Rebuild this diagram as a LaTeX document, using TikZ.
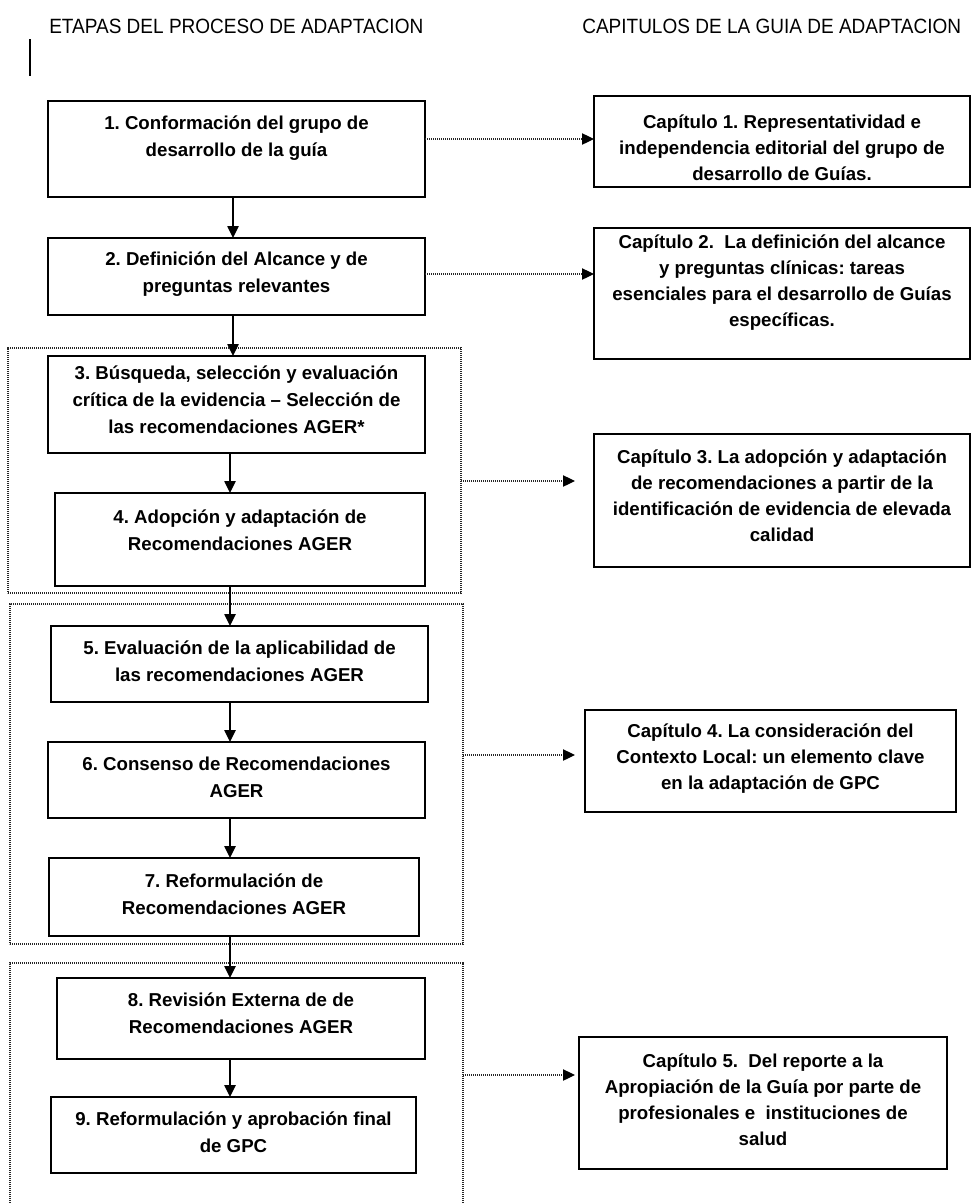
\documentclass[tikz,border=0pt]{standalone}
\usepackage{fontspec}
\setmainfont{Liberation Sans}
\newfontfamily\hdrfont[FakeStretch=0.92]{Liberation Sans}
\usetikzlibrary{arrows.meta}
\begin{document}
\frenchspacing
\begin{tikzpicture}[x=0.75pt,y=-0.75pt,
  box/.style={draw=black, line width=1.5pt, inner sep=0pt, outer sep=0pt, fill=white},
  grp/.style={draw=black!85, line width=0.9pt, dash pattern=on 0.8pt off 0.7pt, inner sep=0pt, outer sep=0pt},
  stxt/.style={inner sep=0pt, align=center, font=\fontsize{14}{20.25}\selectfont\bfseries},
  ctxt/.style={inner sep=0pt, align=center, font=\fontsize{14}{19.5}\selectfont\bfseries},
  hdr/.style={inner sep=0pt, anchor=base west, font=\hdrfont\fontsize{15.5}{18}\selectfont},
  arr/.style={line width=1.1pt, -{Triangle[length=9pt,width=8.5pt]}},
  darr/.style={draw=black!85, line width=0.9pt, dash pattern=on 0.8pt off 0.7pt, -{Triangle[length=9pt,width=8.5pt,black]}}
]
\useasboundingbox[fill=white] (0,0) rectangle (971,1203);

% headers
\node[hdr] (h1) at (49,33) {ETAPAS DEL PROCESO DE ADAPTACION};
\node[hdr] (h2) at (582,33) {CAPITULOS DE LA GUIA DE ADAPTACION};
\draw[line width=1.5pt] (30,39) -- (30,76);

% dotted groups
\node[grp, minimum width=339.75pt, minimum height=183.75pt] (g1) at (234.5,470.5) {};
\node[grp, minimum width=339.75pt, minimum height=255pt] (g2) at (236.5,774) {};
\node[draw=none, inner sep=0pt, outer sep=0pt, minimum width=339.75pt, minimum height=180pt] (g3) at (236.5,1083) {};
\draw[grp] (g3.south west) -- (g3.north west) -- (g3.north east) -- (g3.south east);

% step boxes
\node[box, minimum width=282.75pt, minimum height=72pt]   (b1) at (236.5,149) {};
\node[box, minimum width=282.75pt, minimum height=57.75pt](b2) at (236.5,276.5) {};
\node[box, minimum width=282.75pt, minimum height=72.75pt](b3) at (236.5,404.5) {};
\node[box, minimum width=277.5pt, minimum height=69.75pt] (b4) at (240,539.5) {};
\node[box, minimum width=282.75pt, minimum height=57pt]   (b5) at (239.5,664) {};
\node[box, minimum width=282.75pt, minimum height=57pt]   (b6) at (236.5,780) {};
\node[box, minimum width=277.5pt, minimum height=58.5pt]  (b7) at (234,897) {};
\node[box, minimum width=276pt, minimum height=60.75pt]   (b8) at (241,1018.5) {};
\node[box, minimum width=273.75pt, minimum height=57pt]   (b9) at (233.5,1135) {};

\node[stxt] (t1) at (236.5,138.5) {1. Conformación del grupo de\\desarrollo de la guía};
\node[stxt] (t2) at (236.5,274.5) {2. Definición del Alcance y de\\preguntas relevantes};
\node[stxt] (t3) at (236.5,400) {3. Búsqueda, selección y evaluación\\crítica de la evidencia – Selección de\\las recomendaciones AGER*};
\node[stxt] (t4) at (240,530) {4. Adopción y adaptación de\\Recomendaciones AGER};
\node[stxt] (t5) at (239.5,661.5) {5. Evaluación de la aplicabilidad de\\las recomendaciones AGER};
\node[stxt] (t6) at (236.5,777.5) {6. Consenso de Recomendaciones\\AGER};
\node[stxt] (t7) at (234,894.5) {7. Reformulación de\\Recomendaciones AGER};
\node[stxt] (t8) at (241,1013.5) {8. Revisión Externa de de\\Recomendaciones AGER};
\node[stxt] (t9) at (233.5,1132.5) {9. Reformulación y aprobación final\\de GPC};

% chapter boxes
\node[box, minimum width=282pt, minimum height=68.25pt]  (c1) at (782,141.5) {};
\node[box, minimum width=282pt, minimum height=98.25pt]  (c2) at (782,293.5) {};
\node[box, minimum width=282pt, minimum height=99.75pt]  (c3) at (782,500.5) {};
\node[box, minimum width=278.25pt, minimum height=76.5pt](c4) at (770.5,761) {};
\node[box, minimum width=276pt, minimum height=99pt]     (c5) at (763,1103) {};

\node[ctxt] (tc1) at (782,148) {Capítulo 1. Representatividad e\\independencia editorial del grupo de\\desarrollo de Guías.};
\node[ctxt] (tc2) at (782,282.5) {Capítulo 2.\ \ La definición del alcance\\y preguntas clínicas: tareas\\esenciales para el desarrollo de Guías\\específicas.};
\node[ctxt] (tc3) at (782,496) {Capítulo 3. La adopción y adaptación\\de recomendaciones a partir de la\\identificación de evidencia de elevada\\calidad};
\node[ctxt] (tc4) at (770.5,759) {Capítulo 4. La consideración del\\Contexto Local: un elemento clave\\en la adaptación de GPC};
\node[ctxt] (tc5) at (763,1100) {Capítulo 5.\ \ Del reporte a la\\Apropiación de la Guía por parte de\\profesionales e\ \ instituciones de\\salud};

% vertical arrows
\coordinate (ca) at (233,0);
\coordinate (cb) at (230,0);
\draw[arr] (b1.south -| ca) -- (b2.north -| ca);
\draw[arr] (b2.south -| ca) -- (b3.north -| ca);
\draw[arr] (b3.south -| cb) -- (b4.north -| cb);
\draw[arr] (b4.south -| cb) -- (b5.north -| cb);
\draw[arr] (b5.south -| cb) -- (b6.north -| cb);
\draw[arr] (b6.south -| cb) -- (b7.north -| cb);
\draw[arr] (b7.south -| cb) -- (b8.north -| cb);
\draw[arr] (b8.south -| cb) -- (b9.north -| cb);

% dotted arrows to chapters
\coordinate (e1) at (593,139);
\coordinate (e2) at (593,274);
\coordinate (e3) at (575,481);
\coordinate (e4) at (575,755);
\coordinate (e5) at (575,1075);
\draw[darr] (b1.east |- e1) -- (e1 -| c1.west);
\draw[darr] (b2.east |- e2) -- (e2 -| c2.west);
\draw[darr] (g1.east |- e3) -- (e3);
\draw[darr] (g2.east |- e4) -- (e4);
\draw[darr] (g3.east |- e5) -- (e5);
\end{tikzpicture}
\end{document}
